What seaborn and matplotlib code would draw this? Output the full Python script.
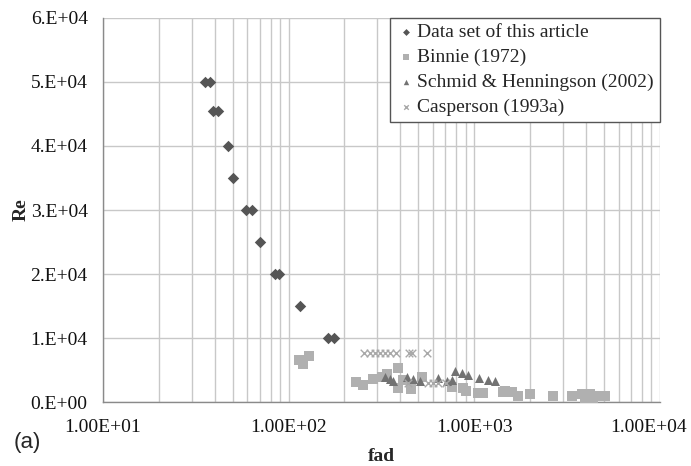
import matplotlib
matplotlib.use("Agg")
import matplotlib.pyplot as plt
import matplotlib.ticker as mticker
import matplotlib.transforms as mtransforms
import seaborn as sns
import pandas as pd
import numpy as np

# ---- data ----
article_fad = [35.5, 37.5, 39, 41.5, 47, 50, 59, 63.5, 70, 84.5, 89, 115, 163, 175]
article_re = [50000, 50000, 45500, 45500, 40000, 35000, 30000, 30000, 25000, 20000, 20000, 15000, 10000, 10000]

binnie_fad = [113.6, 119.4, 128.7, 230, 251, 284, 318, 338, 388, 388, 413, 456, 522,
              757, 868, 901, 1046, 1112, 1426, 1462, 1594, 1717, 1993, 2651, 3355,
              3797, 3940, 4193, 4353, 4748, 5050]
binnie_re = [6560, 5940, 7190, 3120, 2660, 3590, 3910, 4380, 5310, 2190, 3440, 2030, 3910,
             2340, 2190, 1720, 1410, 1410, 1560, 1720, 1560, 940, 1250, 940, 940,
             1250, 625, 1250, 625, 940, 940]

schmid_fad = [330, 351, 365, 434, 467, 509, 637, 712, 758, 786, 857, 924, 1059, 1184, 1291]
schmid_re = [3910, 3590, 3280, 3910, 3590, 3280, 3750, 3280, 3440, 4840, 4530, 4220, 3750, 3440, 3280]

casper_fad = [254, 274, 292, 310, 330, 351, 378, 444, 461, 555, 439, 562, 598, 637, 703]
casper_re = [7600, 7600, 7600, 7600, 7600, 7600, 7600, 7600, 7600, 7600, 3000, 3000, 3000, 3000, 3000]

series_names = ["Data set of this article", "Binnie (1972)",
                "Schmid & Henningson (2002)", "Casperson (1993a)"]
x_ticks = [10, 100, 1000, 10000]
x_tick_labels = ["1.00E+01", "1.00E+02", "1.00E+03", "1.00E+04"]
y_ticks = [0, 10000, 20000, 30000, 40000, 50000, 60000]
y_tick_labels = ["0.E+00", "1.E+04", "2.E+04", "3.E+04", "4.E+04", "5.E+04", "6.E+04"]

sns.set_style("white")
plt.rcParams["font.family"] = ["Liberation Serif", "DejaVu Serif"]

fig = plt.figure(figsize=(6.91, 4.66), dpi=100)
ax = fig.add_axes([0.149, 0.1373, 0.806, 0.8241])

styles = [
    (article_fad, article_re, "D", "#555555", 34),
    (binnie_fad, binnie_re, "s", "#b0b0b0", 42),
    (schmid_fad, schmid_re, "^", "#727272", 42),
    (casper_fad, casper_re, "x", "#a8a8a8", 30),
]
for name, (xs, ys, mk, col, sz) in zip(series_names, styles):
    df = pd.DataFrame({"fad": xs, "Re": ys})
    sns.scatterplot(data=df, x="fad", y="Re", marker=mk, color=col, s=sz,
                    linewidth=1.0 if mk == "x" else 0, edgecolor=col if mk != "x" else None,
                    ax=ax, label=name, zorder=3)

ax.set_xscale("log")
ax.set_xlim(10, 10000)
ax.set_ylim(0, 60000)
ax.set_xticks(x_ticks)
ax.set_xticklabels(x_tick_labels)
ax.xaxis.set_minor_locator(mticker.LogLocator(base=10, subs=np.arange(2, 10)))
ax.xaxis.set_minor_formatter(mticker.NullFormatter())
ax.set_yticks(y_ticks)
ax.set_yticklabels(y_tick_labels)

ax.grid(True, which="major", axis="both", color="#c8c8c8", linewidth=1.0, zorder=0)
ax.grid(True, which="minor", axis="x", color="#c8c8c8", linewidth=1.0, zorder=0)
ax.set_axisbelow(True)

for side in ["top", "right"]:
    ax.spines[side].set_visible(False)
for side in ["left", "bottom"]:
    ax.spines[side].set_color("#8a8a8a")
    ax.spines[side].set_linewidth(1.0)

ax.tick_params(axis="both", which="major", direction="out", length=6, width=1,
               color="#8a8a8a", labelsize=14, labelcolor="#111111")
ax.tick_params(axis="x", which="major", pad=6)
ax.tick_params(axis="y", which="major", pad=5)
ax.tick_params(axis="x", which="minor", length=0)

# last x tick label is nudged left to stay inside the figure, as in the reference
last_lab = ax.get_xticklabels()[-1]
last_lab.set_transform(last_lab.get_transform() +
                       mtransforms.ScaledTranslation(-8 / 72, 0, fig.dpi_scale_trans))

ax.set_xlabel("fad", fontsize=14, fontweight="bold", labelpad=9)
ax.set_ylabel("Re", fontsize=14, fontweight="bold", labelpad=0.5)

leg = ax.legend(loc="upper right", bbox_to_anchor=(1.0, 1.0), borderaxespad=0,
                frameon=True, fancybox=False, framealpha=1, edgecolor="#555555",
                fontsize=14, handletextpad=0.1, handlelength=1.0, labelspacing=0.37,
                borderpad=0.3, markerscale=0.6)
leg.get_frame().set_linewidth(1.0)

fig.text(0.019, 0.0515, "(a)", fontsize=16, family=["Liberation Sans", "DejaVu Sans"],
         ha="left", va="center")

fig.savefig("out.png", dpi=100, facecolor="white")
